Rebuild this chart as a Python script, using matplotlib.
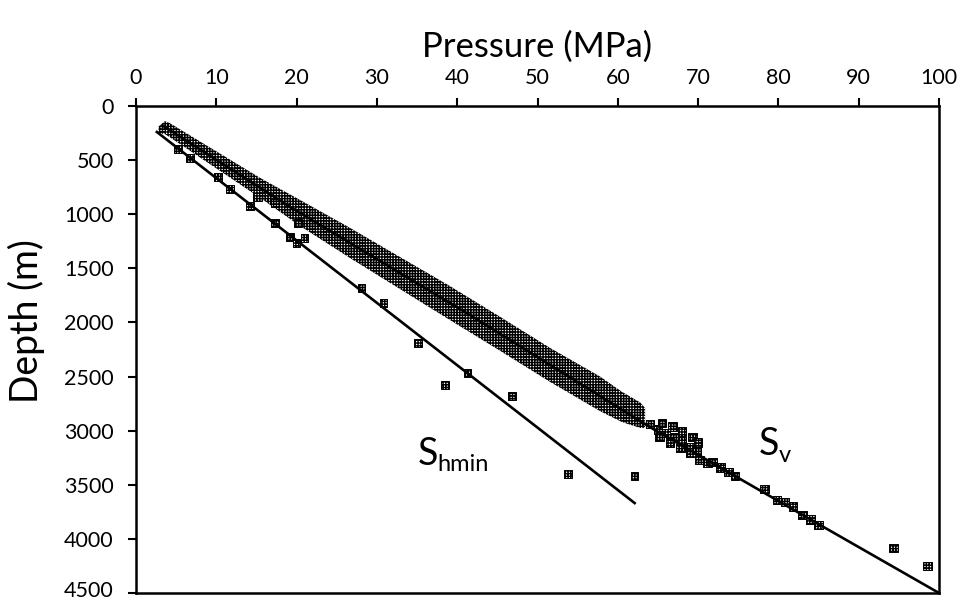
import matplotlib
matplotlib.use("Agg")
import matplotlib.pyplot as plt
import matplotlib.transforms as mtransforms

plt.rcParams['font.family'] = ['Lato', 'DejaVu Sans']
plt.rcParams['hatch.linewidth'] = 1.05

# ---- data ----
x_ticks = [0, 10, 20, 30, 40, 50, 60, 70, 80, 90, 100]
y_ticks = [0, 500, 1000, 1500, 2000, 2500, 3000, 3500, 4000, 4500]

# Sv trend line (pressure MPa, depth m)
sv_line_p = [3.3, 19.2, 41.6, 64.0, 85.2, 100.0]
sv_line_d = [180, 933, 1932, 2967, 3872, 4500]

# Shmin trend line
sh_line_p = [2.6, 62.1]
sh_line_d = [240, 3669]

# dense Sv data band: pressure, top depth, bottom depth
band_p   = [2.8, 3.6, 4.2, 8.0, 11.7, 15.4, 20.4, 26.6, 32.8, 39.1,
            45.3, 51.6, 57.8, 60.5, 62.8, 63.4]
band_top = [190, 140, 158, 329, 495, 662, 867, 1124, 1392, 1664,
            1946, 2237, 2500, 2640, 2740, 2790]
band_bot = [250, 260, 288, 477, 661, 846, 1107, 1402, 1688, 1978,
            2260, 2551, 2820, 2920, 2975, 2975]

# deeper / scattered Sv measurements
sv_pts_p = [15.1, 17.3, 20.2,
            64.0, 65.0, 66.0, 67.0, 68.0, 69.0, 69.8, 65.2, 66.5, 67.8, 69.0,
            65.5, 66.8, 68.0, 69.3, 70.0,
            69.2, 70.2, 71.2, 71.8, 72.8, 73.8, 74.6,
            78.3, 79.8, 80.8, 81.8, 83.0, 84.0, 85.0,
            94.3, 98.6]
sv_pts_d = [841, 896, 1081,
            2940, 2990, 3020, 3060, 3100, 3150, 3190, 3060, 3110, 3160, 3200,
            2930, 2960, 3010, 3060, 3110,
            3200, 3270, 3300, 3290, 3340, 3380, 3420,
            3540, 3640, 3660, 3700, 3780, 3820, 3870,
            4085, 4251]

# Shmin measurements
sh_pts_p = [5.2, 6.7, 10.2, 11.7, 14.2, 17.3, 19.2, 20.0, 21.0,
            28.1, 30.8, 35.1, 41.3, 38.5, 46.8, 53.8, 62.1]
sh_pts_d = [397, 481, 656, 767, 924, 1081, 1211, 1266, 1220,
            1682, 1821, 2190, 2468, 2579, 2680, 3401, 3420]

# ---- figure ----
fig = plt.figure(figsize=(9.73, 6.01), dpi=100)
ax = fig.add_axes([136/973, 8/601, (939-136)/973, (593-106)/601])

HATCH = '+' * 6
ax.fill_between(band_p, band_top, band_bot, facecolor='white', edgecolor='black',
                hatch=HATCH, linewidth=0, zorder=2)

ax.scatter(sv_pts_p, sv_pts_d, marker='s', s=38, facecolor='white',
           edgecolor='black', hatch=HATCH, linewidths=0.7, zorder=3)
ax.scatter(sh_pts_p, sh_pts_d, marker='s', s=30, facecolor='white',
           edgecolor='black', hatch=HATCH, linewidths=0.7, zorder=3)

ax.plot(sv_line_p, sv_line_d, color='black', lw=1.9, zorder=4)
ax.plot(sh_line_p, sh_line_d, color='black', lw=1.9, zorder=4)

ax.set_xlim(0, 100)
ax.set_ylim(4500, 0)
ax.xaxis.tick_top()
ax.xaxis.set_label_position('top')
ax.set_xticks(x_ticks)
ax.set_yticks(y_ticks)
ax.set_xticklabels([str(v) for v in x_ticks])
ax.set_yticklabels([str(v) for v in y_ticks])
ax.tick_params(axis='both', labelsize=15.5, width=1.5, length=6, color='black',
               direction='out')
ax.tick_params(axis='x', pad=7)
ax.tick_params(axis='y', pad=10)
for sp in ax.spines.values():
    sp.set_linewidth(1.8)

# nudge the bottom tick label up so it stays inside the figure
lbl = ax.get_yticklabels()[-1]
lbl.set_transform(lbl.get_transform() +
                  mtransforms.ScaledTranslation(0, 4/100, fig.dpi_scale_trans))

ax.set_xlabel('Pressure (MPa)', fontsize=25, labelpad=8)
ax.set_ylabel('Depth (m)', fontsize=27)
ax.yaxis.set_label_coords(-0.113, 0.558)

ax.text(35.1, 3318, 'S', fontsize=27, ha='left', va='baseline')
ax.text(37.5, 3372, 'hmin', fontsize=17, ha='left', va='baseline')
ax.text(77.6, 3226, 'S', fontsize=27, ha='left', va='baseline')
ax.text(80.1, 3290, 'v', fontsize=17, ha='left', va='baseline')

fig.savefig('out.png', dpi=100)
